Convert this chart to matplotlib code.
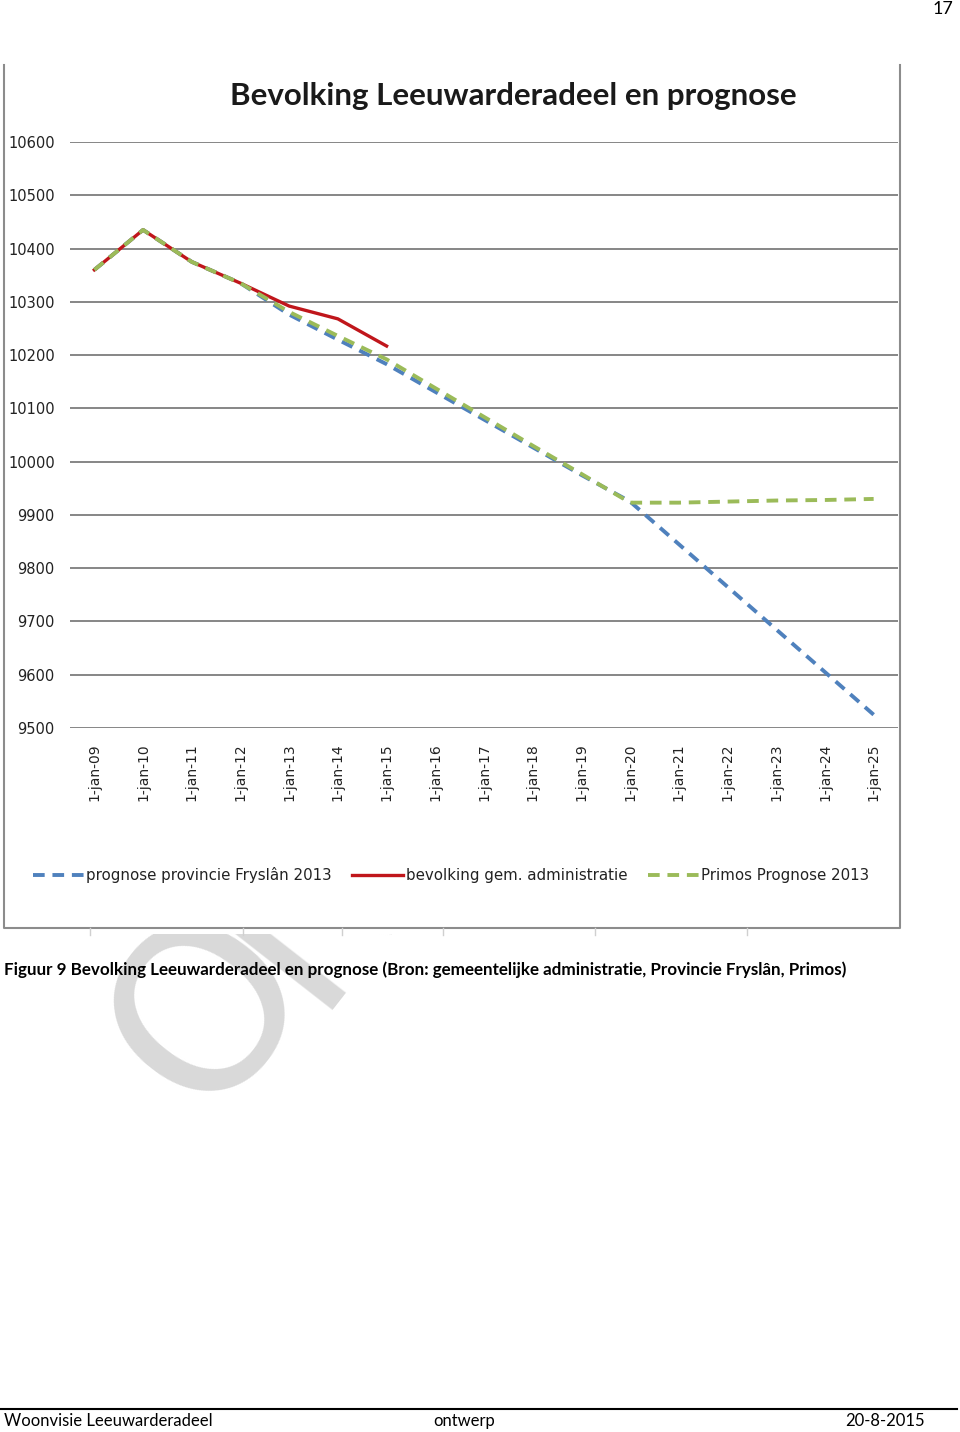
import numpy as np
import matplotlib
matplotlib.use("Agg")
import matplotlib.pyplot as plt
from matplotlib.lines import Line2D
from matplotlib.patches import Rectangle

W, H = 960, 1432

years = ["1-jan-09", "1-jan-10", "1-jan-11", "1-jan-12", "1-jan-13", "1-jan-14",
         "1-jan-15", "1-jan-16", "1-jan-17", "1-jan-18", "1-jan-19", "1-jan-20",
         "1-jan-21", "1-jan-22", "1-jan-23", "1-jan-24", "1-jan-25"]
prognose_provincie = [10360, 10435, 10375, 10335, 10276, 10229, 10183, 10131, 10079,
                      10027, 9975, 9925, 9845, 9765, 9685, 9605, 9525]
bevolking = [10360, 10435, 10375, 10335, 10292, 10268, 10217] + [np.nan] * 10
primos = [10360, 10435, 10375, 10335, 10281, 10236, 10192, 10138, 10084, 10030,
          9977, 9923, 9923, 9925, 9927, 9928, 9930]
y_ticks = list(range(9500, 10601, 100))

labels = ["prognose provincie Fryslân 2013", "bevolking gem. administratie",
          "Primos Prognose 2013"]
BLUE, RED, GREEN = "#4f81bd", "#c0161b", "#9bbb59"
GRID = "#868686"


def fx(px):
    return px / W


def fy(py):
    return 1 - py / H


fig = plt.figure(figsize=(W / 100, H / 100), dpi=100)

# watermark, mostly hidden behind the chart picture; "O" and the rest set apart
wm = dict(fontsize=165, color="#d9d9d9", rotation=52, rotation_mode="anchor",
          ha="left", va="baseline", family="DejaVu Sans", zorder=-3)
fig.text(fx(205), fy(1120), "O", **wm)
fig.text(fx(310), fy(1010), "NTWERP", **wm)
fig.patches.append(Rectangle((0, fy(934)), 1, 1 - fy(934), transform=fig.transFigure,
                             facecolor="white", edgecolor="none", zorder=-2))

# chart frame (left, bottom, right)
frame = dict(color="#8c8c8c", lw=1.5, transform=fig.transFigure, zorder=-1)
fig.lines.append(Line2D([fx(4), fx(4), fx(900), fx(900)],
                        [fy(65), fy(928), fy(928), fy(65)], **frame))
for tx in [90, 243, 342, 443, 595, 747]:
    fig.lines.append(Line2D([fx(tx), fx(tx)], [fy(928), fy(935)],
                            color="#d0d0d0", lw=1, transform=fig.transFigure))

ax = fig.add_axes([fx(70), fy(728), fx(898) - fx(70), fy(142) - fy(728)])
x = np.arange(len(years))
ax.plot(x, prognose_provincie, color=BLUE, lw=2.8, ls=(0, (3, 2)), label=labels[0])
ax.plot(x, bevolking, color=RED, lw=2.4, label=labels[1])
ax.plot(x, primos, color=GREEN, lw=2.8, ls=(0, (3, 2)), label=labels[2])

ax.set_xlim(-0.5, len(years) - 0.5)
ax.set_ylim(9500, 10600)
ax.set_yticks(y_ticks)
ax.set_xticks(x)
ax.set_xticklabels(years, rotation=90, fontsize=10, color="#222222")
ax.tick_params(axis="y", length=0, pad=11, labelsize=10.5, labelcolor="#222222")
ax.tick_params(axis="x", length=0, pad=11)
ax.grid(axis="y", color=GRID, lw=1.4)
ax.set_axisbelow(True)
for s in ax.spines.values():
    s.set_visible(False)

fig.text(fx(513), fy(96), "Bevolking Leeuwarderadeel en prognose", fontsize=22.5,
         fontweight="bold", family="Lato", color="#1a1a1a", ha="center", va="center")

handles, _ = ax.get_legend_handles_labels()
fig.legend(handles, labels, loc="center", bbox_to_anchor=(fx(451), fy(875)), ncol=3,
           frameon=False, fontsize=10.8, handlelength=3.4, handletextpad=0.15,
           columnspacing=1.4, labelcolor="#222222")

fig.text(fx(4), fy(970), "Figuur 9 Bevolking Leeuwarderadeel en prognose (Bron: "
         "gemeentelijke administratie, Provincie Fryslân, Primos)", fontsize=12.25,
         fontweight="bold", family="Lato", ha="left", va="center")

fig.text(fx(953), fy(9), "17", fontsize=13, family="Lato", ha="right", va="center")

fig.lines.append(Line2D([0, fx(957)], [fy(1409), fy(1409)], color="black", lw=1.5,
                        transform=fig.transFigure))
fig.text(fx(4), fy(1421), "Woonvisie Leeuwarderadeel", fontsize=12, family="Lato",
         ha="left", va="center")
fig.text(fx(464), fy(1421), "ontwerp", fontsize=12, family="Lato", ha="center",
         va="center")
fig.text(fx(925), fy(1421), "20-8-2015", fontsize=12, family="Lato", ha="right",
         va="center")

fig.savefig("out.png", dpi=100, facecolor="white")
